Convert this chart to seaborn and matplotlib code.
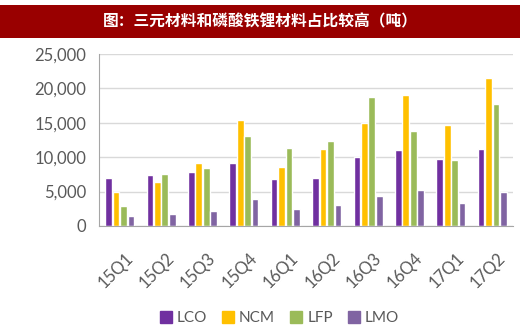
import matplotlib
matplotlib.use("Agg")
import matplotlib.pyplot as plt
import matplotlib.transforms as mtransforms
import seaborn as sns
import pandas as pd
from matplotlib.patches import Rectangle
from matplotlib.lines import Line2D

quarters = ["15Q1", "15Q2", "15Q3", "15Q4", "16Q1", "16Q2", "16Q3", "16Q4", "17Q1", "17Q2"]
lco = [7000, 7400, 7900, 9100, 6800, 7000, 10000, 11000, 9800, 11200]
ncm = [5000, 6400, 9100, 15400, 8600, 11200, 15000, 19000, 14700, 21500]
lfp = [2900, 7600, 8400, 13100, 11300, 12400, 18700, 13800, 9600, 17800]
lmo = [1400, 1700, 2200, 3900, 2500, 3000, 4400, 5300, 3400, 5000]
series_names = ["LCO", "NCM", "LFP", "LMO"]
title_text = "图：三元材料和磷酸铁锂材料占比较高（吨）"

colors = ["#7030A0", "#FFC000", "#9BBB59", "#8064A2"]

rows = []
for name, vals in zip(series_names, [lco, ncm, lfp, lmo]):
    for q, v in zip(quarters, vals):
        rows.append({"quarter": q, "series": name, "value": v})
df = pd.DataFrame(rows)

sns.set_style("white")
plt.rcParams["font.family"] = ["Lato", "DejaVu Sans"]

fig = plt.figure(figsize=(5.2, 3.31), dpi=100)
fig.patch.set_facecolor("white")

# title banner
fig.patches.append(Rectangle((0, 1 - 38 / 331), 1, 33 / 331, transform=fig.transFigure,
                             facecolor="#990000", edgecolor="none", zorder=0))
fig.text(0.5, 1 - 21 / 331, title_text, color="white", ha="center", va="center",
         fontsize=11.3, fontweight="bold", family=["Noto Sans CJK SC", "DejaVu Sans"])

ax = fig.add_axes([99 / 520, 1 - 226 / 331, 414 / 520, 172 / 331])
sns.barplot(data=df, x="quarter", y="value", hue="series", palette=colors,
            width=0.72, gap=0.1, saturation=1, ax=ax, legend=False)

ax.set_xlim(-0.5, 9.5)
ax.set_ylim(0, 25000)
ax.set_yticks(range(0, 25001, 5000))
ax.set_yticklabels([f"{v:,}" for v in range(0, 25001, 5000)])
ax.set_xlabel("")
ax.set_ylabel("")
ax.grid(axis="y", color="#D9D9D9", linewidth=1)
ax.set_axisbelow(True)
for s in ["top", "right"]:
    ax.spines[s].set_visible(False)
ax.spines["bottom"].set_color("#A6A6A6")
ax.spines["left"].set_color("#A6A6A6")
ax.tick_params(axis="y", length=4, width=1, color="#A6A6A6", labelsize=12,
               labelcolor="#595959", pad=5)
ax.tick_params(axis="x", length=0, labelsize=12, labelcolor="#595959", pad=17)
shift = mtransforms.ScaledTranslation(5 / 100, 0, fig.dpi_scale_trans)
for lbl in ax.get_xticklabels():
    lbl.set_rotation(45)
    lbl.set_ha("right")
    lbl.set_rotation_mode("anchor")
    lbl.set_transform(lbl.get_transform() + shift)

handles = [Line2D([], [], marker="s", linestyle="none", markersize=8,
                  markerfacecolor=c, markeredgecolor=c) for c in colors]
fig.legend(handles, series_names, loc="center", bbox_to_anchor=(0.536, 1 - 318 / 331),
           ncol=4, frameon=False, fontsize=11, handletextpad=0.2, columnspacing=0.9,
           labelcolor="#595959", handlelength=1)

fig.savefig("out.png", dpi=100)
